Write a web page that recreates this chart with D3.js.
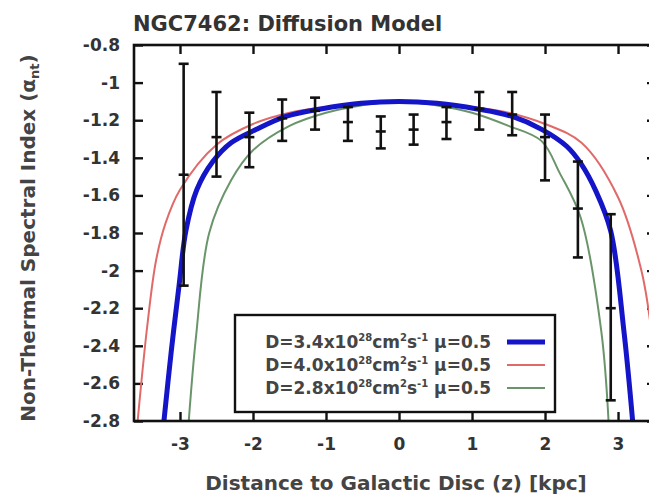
<!DOCTYPE html>
<html>
<head>
<meta charset="utf-8">
<script src="https://cdn.jsdelivr.net/npm/d3@7"></script>
<style>
  body { margin: 0; background: #fff; }
  svg { font-family: "DejaVu Sans", Verdana, sans-serif; font-weight: bold; }
  .tick text { fill: #333; }
</style>
</head>
<body>
<div id="chart"></div>
<script>
// measured data points (z in kpc, spectral index with error range)
var zPts   = [-2.95, -2.5, -2.05, -1.6, -1.15, -0.7, -0.25, 0.2, 0.65, 1.1, 1.55, 2.0, 2.45, 2.9];
var alpha  = [-1.49, -1.29, -1.29, -1.19, -1.15, -1.21, -1.26, -1.25, -1.21, -1.14, -1.17, -1.29, -1.67, -2.20];
var errLo  = [-2.08, -1.50, -1.45, -1.31, -1.25, -1.31, -1.35, -1.33, -1.30, -1.25, -1.28, -1.52, -1.93, -2.69];
var errHi  = [-0.90, -1.05, -1.16, -1.09, -1.08, -1.13, -1.18, -1.17, -1.13, -1.05, -1.05, -1.17, -1.42, -1.70];

// model curves
var blueZ = [-3.22, -3.12, -3.01, -2.92, -2.77, -2.55, -2.3, -1.96, -1.55, -1.07, -0.52, 0, 0.52, 1.07, 1.55, 1.96, 2.3, 2.49, 2.7, 2.9, 3.08, 3.2];
var blueA = [-2.8, -2.43, -2.07, -1.79, -1.57, -1.42, -1.32, -1.25, -1.18, -1.14, -1.11, -1.10, -1.11, -1.14, -1.18, -1.25, -1.34, -1.43, -1.58, -1.79, -2.32, -2.8];
var redZ  = [-3.58, -3.45, -3.33, -3.2, -3.0, -2.5, -2.0, -1.5, -1.0, -0.5, 0, 0.5, 1.0, 1.5, 2.0, 2.5, 3.0, 3.32, 3.45, 3.58];
var redA  = [-2.8, -2.3, -1.95, -1.75, -1.57, -1.33, -1.22, -1.16, -1.13, -1.11, -1.10, -1.11, -1.13, -1.16, -1.22, -1.32, -1.61, -2.0, -2.3, -2.8];
var greenZ = [-2.88, -2.78, -2.6, -2.3, -2.0, -1.5, -1.0, -0.5, 0, 0.5, 1.0, 1.5, 1.95, 2.2, 2.49, 2.77, 2.87];
var greenA = [-2.8, -2.35, -1.8, -1.52, -1.36, -1.23, -1.16, -1.12, -1.10, -1.12, -1.16, -1.23, -1.31, -1.48, -1.72, -2.32, -2.8];

var xTicks = [-3, -2, -1, 0, 1, 2, 3];
var yTicks = [-0.8, -1, -1.2, -1.4, -1.6, -1.8, -2, -2.2, -2.4, -2.6, -2.8];

var width = 649, height = 500;
var pLeft = 134, pRight = 656, pTop = 45, pBottom = 421;

var svg = d3.select('#chart').append('svg')
  .attr('width', width)
  .attr('height', height);

var x = d3.scaleLinear().domain([-3.63, 3.52]).range([pLeft, pRight]);
var y = d3.scaleLinear().domain([-2.8, -0.8]).range([pBottom, pTop]);

svg.append('clipPath').attr('id', 'plotclip')
  .append('rect')
  .attr('x', pLeft).attr('y', pTop)
  .attr('width', pRight - pLeft).attr('height', pBottom - pTop);

// axes with inward ticks on all four sides
var tl = 9;
svg.append('g')
  .attr('transform', 'translate(0,' + pBottom + ')')
  .call(d3.axisBottom(x).tickValues(xTicks).tickSize(-tl).tickPadding(17).tickFormat(function(d) { return String(d); }))
  .call(function(g) { g.select('.domain').remove(); });
svg.append('g')
  .attr('transform', 'translate(0,' + pTop + ')')
  .call(d3.axisTop(x).tickValues(xTicks).tickSize(-tl).tickFormat(''))
  .call(function(g) { g.select('.domain').remove(); });
svg.append('g')
  .attr('transform', 'translate(' + pLeft + ',0)')
  .call(d3.axisLeft(y).tickValues(yTicks).tickSize(-tl).tickPadding(14).tickFormat(function(d) { return String(d); }))
  .call(function(g) { g.select('.domain').remove(); });
svg.append('g')
  .attr('transform', 'translate(' + pRight + ',0)')
  .call(d3.axisRight(y).tickValues(yTicks).tickSize(-tl).tickFormat(''))
  .call(function(g) { g.select('.domain').remove(); });

svg.selectAll('.tick line').attr('stroke', '#111').attr('stroke-width', 2.4);
svg.selectAll('.tick text').attr('font-size', 17).attr('font-family', '"DejaVu Sans", sans-serif');

// curves
var line = d3.line()
  .x(function(d) { return x(d[0]); })
  .y(function(d) { return y(d[1]); })
  .curve(d3.curveCatmullRom.alpha(0.5));

var curves = [
  { z: redZ, a: redA, color: '#e06a6a', w: 2 },
  { z: greenZ, a: greenA, color: '#6a956a', w: 2 },
  { z: blueZ, a: blueA, color: '#1414c8', w: 5 }
];

var plot = svg.append('g').attr('clip-path', 'url(#plotclip)');
curves.forEach(function(c) {
  plot.append('path')
    .datum(d3.zip(c.z, c.a))
    .attr('fill', 'none')
    .attr('stroke', c.color)
    .attr('stroke-width', c.w)
    .attr('d', line);
});

// error bars
var cap = 5;
var eb = plot.selectAll('g.eb')
  .data(d3.range(zPts.length))
  .enter().append('g').attr('class', 'eb')
  .attr('stroke', '#111').attr('stroke-width', 2.6);
eb.append('line')
  .attr('x1', function(i) { return x(zPts[i]); })
  .attr('x2', function(i) { return x(zPts[i]); })
  .attr('y1', function(i) { return y(errLo[i]); })
  .attr('y2', function(i) { return y(errHi[i]); });
[errLo, errHi, alpha].forEach(function(arr) {
  eb.append('line')
    .attr('x1', function(i) { return x(zPts[i]) - cap; })
    .attr('x2', function(i) { return x(zPts[i]) + cap; })
    .attr('y1', function(i) { return y(arr[i]); })
    .attr('y2', function(i) { return y(arr[i]); });
});

// legend
var lg = svg.append('g');
lg.append('rect')
  .attr('x', 235).attr('y', 315)
  .attr('width', 320).attr('height', 97)
  .attr('fill', '#fff').attr('stroke', '#111').attr('stroke-width', 2.4);

var legendD = ['3.4', '4.0', '2.8'];
var legendColors = ['#1414c8', '#e06a6a', '#6a956a'];
var legendW = [5, 2.2, 2.2];
legendD.forEach(function(d, i) {
  var ly = 342 + i * 23;
  var t = lg.append('text')
    .attr('x', 491).attr('y', ly + 6)
    .attr('text-anchor', 'end')
    .attr('font-size', 17)
    .attr('fill', '#444');
  t.append('tspan').text('D=' + d + 'x10');
  t.append('tspan').attr('font-size', 10).attr('dy', -7).text('28');
  t.append('tspan').attr('dy', 7).text('cm');
  t.append('tspan').attr('font-size', 10).attr('dy', -7).text('2');
  t.append('tspan').attr('dy', 7).text('s');
  t.append('tspan').attr('font-size', 10).attr('dy', -7).text('-1');
  t.append('tspan').attr('dy', 7).text(' \u03bc=0.5');
  lg.append('line')
    .attr('x1', 507).attr('x2', 545)
    .attr('y1', ly).attr('y2', ly)
    .attr('stroke', legendColors[i]).attr('stroke-width', legendW[i]);
});

// frame
svg.append('rect')
  .attr('x', pLeft).attr('y', pTop)
  .attr('width', pRight - pLeft).attr('height', pBottom - pTop)
  .attr('fill', 'none').attr('stroke', '#111').attr('stroke-width', 2.6);

// title and axis labels
svg.append('text')
  .attr('x', 133).attr('y', 31)
  .attr('font-size', 21).attr('fill', '#333')
  .text('NGC7462: Diffusion Model');

svg.append('text')
  .attr('x', 396).attr('y', 490)
  .attr('text-anchor', 'middle')
  .attr('font-size', 20).attr('fill', '#444')
  .text('Distance to Galactic Disc (z) [kpc]');

var yl = svg.append('text')
  .attr('transform', 'translate(35,' + 238 + ') rotate(-90)')
  .attr('text-anchor', 'middle')
  .attr('font-size', 20).attr('fill', '#444');
yl.append('tspan').text('Non-Thermal Spectral Index (\u03b1');
yl.append('tspan').attr('font-size', 13).attr('dy', 4).text('nt');
yl.append('tspan').attr('dy', -4).text(')');
</script>
</body>
</html>
